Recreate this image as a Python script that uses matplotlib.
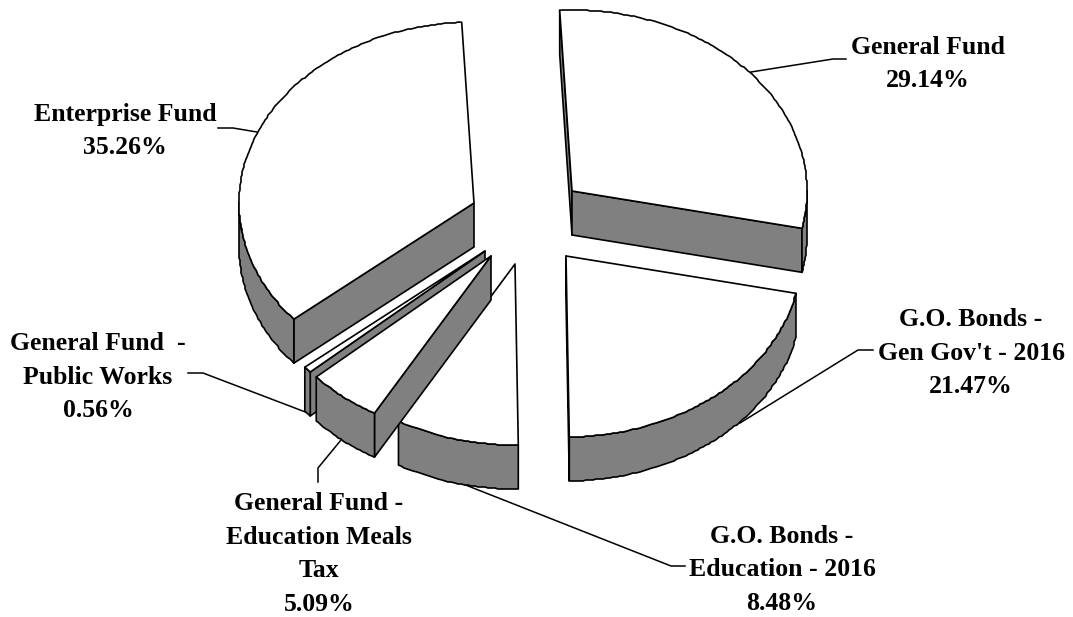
import numpy as np
import matplotlib
matplotlib.use('Agg')
import matplotlib.pyplot as plt
from matplotlib.patches import Polygon

names = ['General Fund', "G.O. Bonds -\nGen Gov't - 2016", 'G.O. Bonds -\nEducation - 2016',
         'General Fund -\nEducation Meals\nTax', 'General Fund  -\nPublic Works', 'Enterprise Fund']
shares = [29.14, 21.47, 8.48, 5.09, 0.56, 35.26]

# layout, in pixels of the 1073x617 picture
apex = [(572, 191), (566, 256), (515, 264), (491, 256), (485, 251), (474, 203)]
label_pos = [(928, 64), (971, 353), (782, 570), (319, 554), (98, 377), (125, 131)]
leaders = [[(751, 72), (833, 59), (846, 59)],
           [(740, 423), (858, 350), (873, 350)],
           [(458, 482), (671, 566), (685, 566)],
           [(341, 440), (318, 468), (318, 482)],
           [(308, 413), (203, 373), (188, 373)],
           [(257, 132), (233, 128), (218, 128)]]
draw_order = [5, 4, 2, 3, 0, 1]
start_angle = -3
rx, ry = 235, 181
depth = 44
grey = '#808080'

plt.rcParams['font.family'] = ['Liberation Serif', 'DejaVu Serif']
fig = plt.figure(figsize=(10.73, 6.17), dpi=100)
ax = fig.add_axes([0, 0, 1, 1])
ax.set_xlim(0, 1073)
ax.set_ylim(617, 0)
ax.axis('off')

edges = start_angle + np.cumsum([0] + shares) * 3.6


def rim(center, t):
    t = np.radians(t)
    return np.column_stack([center[0] + rx * np.sin(t), center[1] - ry * np.cos(t)])


def wavy(pts):
    # the rim in the reference is a little rough, not a clean curve
    inner = np.round(pts[1:-1])
    return np.vstack([pts[:1], inner, pts[-1:]])


def face(pts, z):
    ax.add_patch(Polygon(pts, closed=True, fc=grey, ec='black', lw=1.2, joinstyle='round', zorder=z))


for z, i in enumerate(draw_order):
    t0, t1 = edges[i], edges[i + 1]
    c = apex[i]
    c_arr = np.array([c], dtype=float)
    down = np.array([0, depth])
    p1 = rim(c, np.array([t0]))
    p2 = rim(c, np.array([t1]))
    z = 2 + z
    # only the faces looking down toward the viewer
    if np.sin(np.radians(t0)) < 0:
        face(np.vstack([c_arr, p1, p1 + down, c_arr + down]), z)
    if np.sin(np.radians(t1)) > 0:
        face(np.vstack([c_arr, p2, p2 + down, c_arr + down]), z)
    a, b = max(t0, 90), min(t1, 270)
    if b > a:
        arc = wavy(rim(c, np.linspace(a, b, int((b - a) * 1.2) + 2)))
        face(np.vstack([arc, arc[::-1] + down]), z)
    top = wavy(rim(c, np.linspace(t0, t1, int((t1 - t0) * 1.2) + 2)))
    ax.add_patch(Polygon(np.vstack([c_arr, top]), closed=True, fc='white', ec='black', lw=1.2,
                         joinstyle='round', zorder=z + 0.5))

for name, share, pos, line in zip(names, shares, label_pos, leaders):
    xs, ys = zip(*line)
    ax.plot(xs, ys, color='black', lw=1.1, zorder=1)
    ax.text(pos[0], pos[1], f'{name}\n{share:.2f}%', ha='center', va='center',
            fontsize=18.5, fontweight='bold', linespacing=1.58, zorder=20)

fig.savefig('out.png', dpi=100)
